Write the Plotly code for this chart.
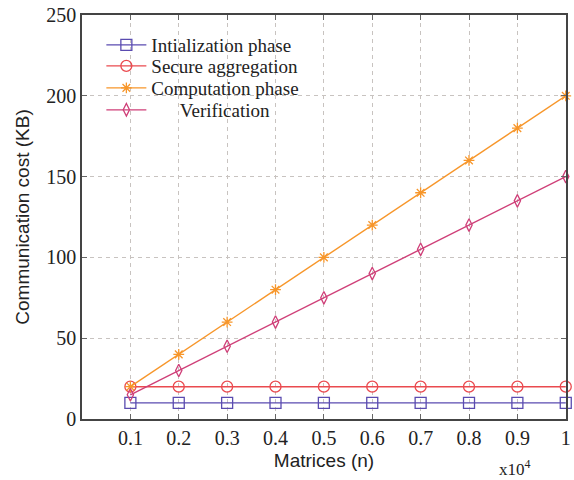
import plotly.graph_objects as go

x_vals = [0.1, 0.2, 0.3, 0.4, 0.5, 0.6, 0.7, 0.8, 0.9, 1.0]
x_labels = ["0.1", "0.2", "0.3", "0.4", "0.5", "0.6", "0.7", "0.8", "0.9", "1"]
init_phase = [10, 10, 10, 10, 10, 10, 10, 10, 10, 10]
secure_agg = [20, 20, 20, 20, 20, 20, 20, 20, 20, 20]
computation = [20, 40, 60, 80, 100, 120, 140, 160, 180, 200]
verification = [15, 30, 45, 60, 75, 90, 105, 120, 135, 150]
y_ticks = [0, 50, 100, 150, 200, 250]

series = [
    ("Intialization phase", init_phase, "#5a4bb0", "square-open", 11),
    ("Secure aggregation", secure_agg, "#ea4a4f", "circle-open", 11),
    ("Computation phase", computation, "#f7962a", "asterisk-open", 9),
    ("\u00a0\u00a0\u00a0\u00a0\u00a0\u00a0Verification", verification, "#cf3f78", "diamond-tall-open", 9),
]

legend_ids = ["legend", "legend2", "legend3", "legend4"]
legend_rows_y = [0.9257, 0.8738, 0.8193, 0.7649]

fig = go.Figure()
for (name, vals, color, sym, size), lid in zip(series, legend_ids):
    fig.add_trace(go.Scatter(
        x=x_vals, y=vals, name=name, mode="lines+markers",
        line=dict(color=color, width=1.4),
        marker=dict(symbol=sym, size=size, color=color, line=dict(color=color, width=1.3)),
        cliponaxis=False, legend=lid,
    ))

serif = "Liberation Serif"
sans = "Liberation Sans"

legend_style = dict(x=0.04, xanchor="left", yanchor="middle",
                    font=dict(family=serif, size=19, color="#222"),
                    bgcolor="rgba(255,255,255,0)", borderwidth=0, itemwidth=40)

fig.update_layout(
    width=574, height=480,
    margin=dict(l=82, r=8, t=15, b=61, autoexpand=False),
    paper_bgcolor="white", plot_bgcolor="white",
    showlegend=True,
    xaxis=dict(
        range=[0, 1.0005], tickvals=x_vals, ticktext=x_labels, automargin=False,
        showgrid=True, gridcolor="#c8c3c0", griddash="4px,4px", gridwidth=1,
        showline=True, linecolor="#444", linewidth=1.5, mirror="ticks",
        ticks="inside", ticklen=5, tickcolor="#666",
        tickfont=dict(family=serif, size=20, color="#222"),
        title=dict(text="Matrices (n)", font=dict(family=sans, size=19, color="#222"), standoff=6),
        zeroline=False,
    ),
    yaxis=dict(
        range=[0, 250], tickvals=y_ticks, automargin=False,
        showgrid=True, gridcolor="#c8c3c0", griddash="4px,4px", gridwidth=1,
        showline=True, linecolor="#444", linewidth=1.5, mirror="ticks",
        ticks="inside", ticklen=5, tickcolor="#666",
        tickfont=dict(family=serif, size=20, color="#222"),
        title=dict(text="Communication cost (KB)", font=dict(family=sans, size=19, color="#222"), standoff=12),
        zeroline=False,
    ),
    annotations=[dict(
        text="x10<sup>4</sup>", xref="paper", yref="paper", x=0.895, y=-0.122,
        xanchor="center", yanchor="middle", showarrow=False,
        font=dict(family=serif, size=17, color="#222"),
    )],
)
for lid, ly in zip(legend_ids, legend_rows_y):
    fig.update_layout({lid: dict(legend_style, y=ly)})

fig.write_html("out.html", config={"displayModeBar": False},
               post_script="document.body.style.margin='0px';document.body.style.overflow='hidden';")
